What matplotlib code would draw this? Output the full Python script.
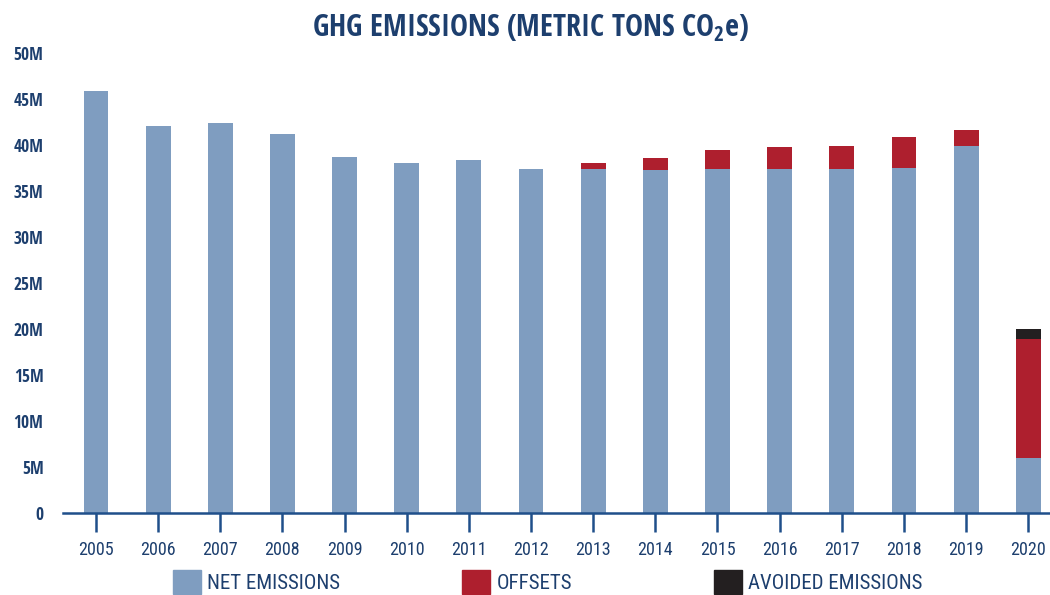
import matplotlib
matplotlib.use("Agg")
import matplotlib.pyplot as plt
from matplotlib.patches import Patch

years = ["2005", "2006", "2007", "2008", "2009", "2010", "2011", "2012",
         "2013", "2014", "2015", "2016", "2017", "2018", "2019", "2020"]
net_emissions = [45.9, 42.1, 42.4, 41.2, 38.7, 38.0, 38.4, 37.4,
                 37.4, 37.3, 37.4, 37.4, 37.4, 37.5, 39.9, 6.0]
offsets = [0, 0, 0, 0, 0, 0, 0, 0,
           0.6, 1.3, 2.1, 2.4, 2.5, 3.4, 1.7, 12.9]
avoided = [0, 0, 0, 0, 0, 0, 0, 0,
           0, 0, 0, 0, 0, 0, 0, 1.1]
y_ticks = [0, 5, 10, 15, 20, 25, 30, 35, 40, 45, 50]
y_labels = ["0", "5M", "10M", "15M", "20M", "25M", "30M", "35M", "40M", "45M", "50M"]
series_names = ["NET EMISSIONS", "OFFSETS", "AVOIDED EMISSIONS"]

BLUE = "#7f9dc0"
RED = "#ae1f2e"
BLACK = "#231f20"
NAVY = "#1d3f6e"
AXIS = "#1f4f8a"

BOLD_FAM = ["Open Sans Condensed", "Roboto Condensed", "DejaVu Sans"]
REG_FAM = ["Roboto Condensed", "DejaVu Sans"]
plt.rcParams["font.family"] = REG_FAM
plt.rcParams["mathtext.fontset"] = "custom"
plt.rcParams["mathtext.rm"] = BOLD_FAM[0]
plt.rcParams["mathtext.bf"] = BOLD_FAM[0] + ":bold"

fig = plt.figure(figsize=(10.5, 5.95), dpi=100)
ax = fig.add_axes([0.06, 1 - 513 / 595, 0.94, (513 - 53) / 595])

x = list(range(len(years)))
w = 0.4
bottom2 = [a + b for a, b in zip(net_emissions, offsets)]
ax.bar(x, net_emissions, width=w, color=BLUE, zorder=2)
ax.bar(x, offsets, width=w, bottom=net_emissions, color=RED, zorder=2)
ax.bar(x, avoided, width=w, bottom=bottom2, color=BLACK, zorder=2)

ax.set_xlim(-0.53, 15.35)
ax.set_ylim(0, 50)
ax.set_xticks(x)
ax.set_xticklabels(years, fontsize=13, color=NAVY, family=REG_FAM)
ax.set_yticks(y_ticks)
ax.set_yticklabels(y_labels, fontsize=12.5, color=NAVY, fontweight="bold",
                   family=BOLD_FAM)
ax.tick_params(axis="x", length=14, width=1.8, color=AXIS, pad=6)
ax.tick_params(axis="y", length=0, pad=14)
for s in ["top", "right", "left"]:
    ax.spines[s].set_visible(False)
ax.spines["bottom"].set_color(AXIS)
ax.spines["bottom"].set_linewidth(1.8)

fig.text(0.505, 0.952, r"GHG EMISSIONS (METRIC TONS CO$_\mathbf{2}$e)",
         ha="center", va="center", fontsize=21.8, fontweight="bold",
         color=NAVY, family=BOLD_FAM)

colors = [BLUE, RED, BLACK]
leg_x = [173 / 1050, 462 / 1050, 714 / 1050]
for name, c, lx in zip(series_names, colors, leg_x):
    leg = fig.legend(handles=[Patch(color=c, label=name)], loc="center left",
                     bbox_to_anchor=(lx, 0.022), frameon=False, fontsize=15,
                     handlelength=1.35, handleheight=1.35, handletextpad=0.3,
                     borderaxespad=0, borderpad=0, prop={"family": REG_FAM, "size": 15})
    for t in leg.get_texts():
        t.set_color(NAVY)

fig.savefig("out.png", dpi=100)
